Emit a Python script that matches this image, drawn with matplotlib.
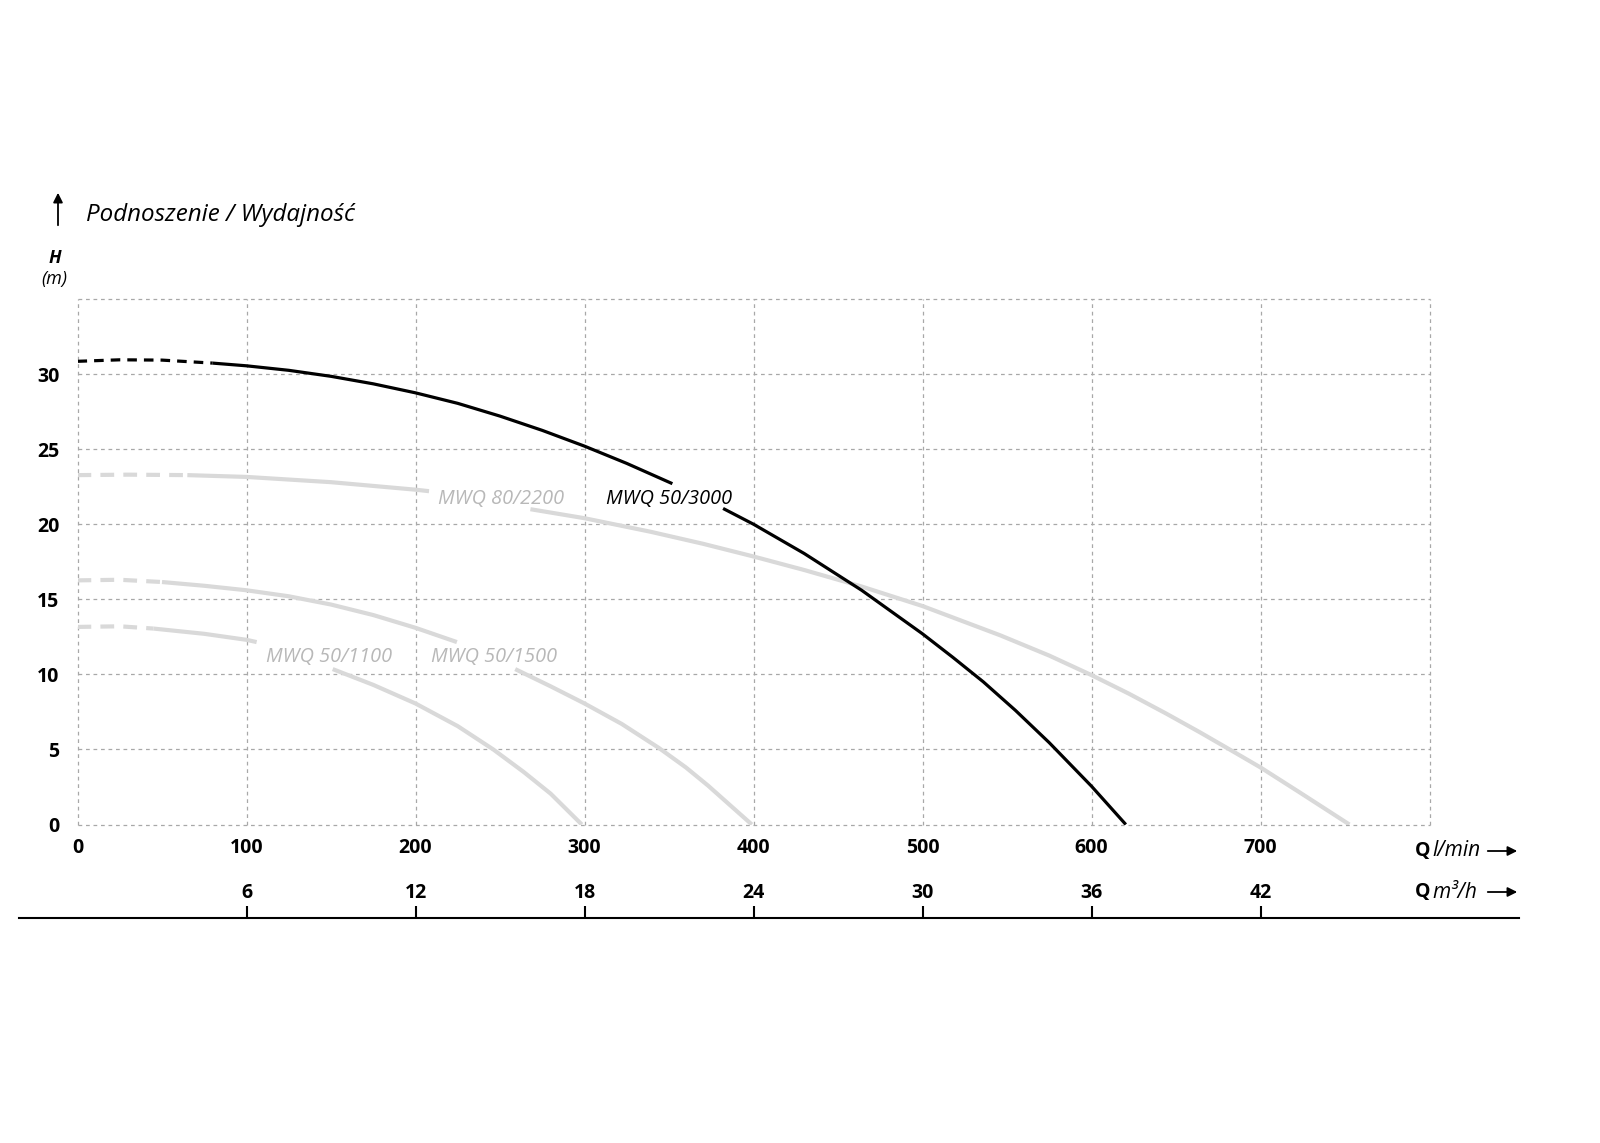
import matplotlib.pyplot as plt
import numpy as np

plt.rcParams['font.family'] = ['Open Sans', 'DejaVu Sans']

nan = np.nan

# pump curves: flow Q (l/min) vs head H (m); nan = gap under the label
# n_dash = index where the dashed start of the curve ends
q_3000 = [0, 25, 50, 80, 100, 125, 150, 175, 200, 225, 250, 275, 300, 325, 352, nan,
          382, 400, 430, 464, 500, 518, 536, 555, 575, 600, 620.3]
h_3000 = [30.85, 30.95, 30.93, 30.73, 30.55, 30.25, 29.85, 29.35, 28.75, 28.05, 27.2, 26.25, 25.2, 24.05, 22.7, nan,
          21.05, 20.0, 18.05, 15.6, 12.7, 11.13, 9.5, 7.6, 5.45, 2.55, 0]
dash_3000 = 3

q_2200 = [0, 30, 65, 100, 150, 200, 208, nan, 268, 300, 339, 370, 400, 430, 464, 500, 546, 575, 600,
          622, 644, 664, 684, 700, 723, 752.6]
h_2200 = [23.27, 23.3, 23.27, 23.15, 22.8, 22.3, 22.2, nan, 21.0, 20.4, 19.5, 18.7, 17.85, 16.95, 15.85, 14.55, 12.6, 11.25, 9.95,
          8.72, 7.4, 6.15, 4.85, 3.8, 2.15, 0]
dash_2200 = 2

q_1500 = [0, 25, 50, 75, 100, 125, 150, 175, 200, 224.5, nan, 259, 280, 300, 322, 344, 360, 373, 386, 399]
h_1500 = [16.26, 16.3, 16.15, 15.9, 15.6, 15.2, 14.65, 13.95, 13.1, 12.15, nan, 10.35, 9.2, 8.06, 6.7, 5.1, 3.8, 2.6, 1.3, 0]
dash_1500 = 2

q_1100 = [0, 25, 45, 75, 100, 106, nan, 151, 175, 200, 225, 246, 264, 280, 298.4]
h_1100 = [13.16, 13.2, 13.05, 12.7, 12.3, 12.15, nan, 10.35, 9.3, 8.06, 6.55, 5.0, 3.5, 2.05, 0]
dash_1100 = 2

x_ticks = [0, 100, 200, 300, 400, 500, 600, 700]
y_ticks = [0, 5, 10, 15, 20, 25, 30]
m3h_labels = ['6', '12', '18', '24', '30', '36', '42']

labels = ['MWQ 50/3000', 'MWQ 80/2200', 'MWQ 50/1500', 'MWQ 50/1100']
label_pos = [(350.3, 21.7), (250.6, 21.7), (246.7, 11.17), (148.8, 11.17)]


def fy(py):
    return 1 - py / 1143


def draw_curve(ax, q, h, n_dash, color, lw, dash):
    ax.plot(q[:n_dash + 1], h[:n_dash + 1], color=color, lw=lw, ls=(0, dash), solid_capstyle='butt')
    ax.plot(q[n_dash:], h[n_dash:], color=color, lw=lw, solid_capstyle='butt', solid_joinstyle='round')


fig = plt.figure(figsize=(16, 11.43), dpi=100)
ax = fig.add_axes([77.5 / 1600, fy(824.5), 1352 / 1600, 525.5 / 1143])
ax.set_xlim(0, 800)
ax.set_ylim(0, 35)
ax.set_xticks(x_ticks + [800])
ax.set_xticklabels([str(v) for v in x_ticks] + [''])
ax.set_yticks(y_ticks + [35])
ax.set_yticklabels([str(v) for v in y_ticks] + [''])
ax.tick_params(axis='x', length=0, labelsize=14, pad=10)
ax.tick_params(axis='y', length=0, labelsize=14, pad=13)
for lbl in ax.get_xticklabels() + ax.get_yticklabels():
    lbl.set_fontweight('bold')
ax.grid(True, color='#a8a8a8', lw=0.9, ls=(0, (3, 3)))
for gl in ax.get_xgridlines() + ax.get_ygridlines():
    gl.set_clip_on(False)
ax.set_axisbelow(True)
for s in ax.spines.values():
    s.set_visible(False)

gray = '#d9d9d9'
draw_curve(ax, q_2200, h_2200, dash_2200, gray, 3.0, (3.3, 2.2))
draw_curve(ax, q_1500, h_1500, dash_1500, gray, 3.0, (3.3, 2.2))
draw_curve(ax, q_1100, h_1100, dash_1100, gray, 3.0, (3.3, 2.2))
draw_curve(ax, q_3000, h_3000, dash_3000, 'black', 2.3, (3, 2.2))

for i, (txt, (x, y)) in enumerate(zip(labels, label_pos)):
    ax.text(x, y, txt, style='italic', fontsize=14.3, ha='center', va='center',
            color='black' if i == 0 else '#b8b8b8')

# bottom line with m3/h scale
q_left = (19.4 - 77.5) / 1.69
q_right = (1519 - 77.5) / 1.69
ax2 = fig.add_axes([19.4 / 1600, fy(918), 1499.6 / 1600, 0.0001])
ax2.set_xlim(q_left, q_right)
ax2.set_yticks([])
ax2.patch.set_visible(False)
for side in ['left', 'right', 'bottom']:
    ax2.spines[side].set_visible(False)
ax2.spines['top'].set_linewidth(1.5)
ax2.xaxis.tick_top()
ax2.set_xticks(x_ticks[1:])
ax2.set_xticklabels(m3h_labels)
ax2.tick_params(axis='x', direction='out', length=9, width=1.5, pad=2, labelsize=14)
for lbl in ax2.get_xticklabels():
    lbl.set_fontweight('bold')

# unit labels at the right
fig.text(1415 / 1600, fy(851), 'Q', weight='bold', fontsize=14, va='center')
fig.text(1432 / 1600, fy(851), 'l/min', style='italic', fontsize=15, va='center')
fig.text(1415 / 1600, fy(892), 'Q', weight='bold', fontsize=14, va='center')
fig.text(1432 / 1600, fy(892), 'm³/h', style='italic', fontsize=15, va='center')
for py in [851, 892]:
    ax.annotate('', xy=(1520, 1143 - py), xytext=(1485, 1143 - py), xycoords='figure pixels',
                arrowprops=dict(arrowstyle='-|>', color='black', lw=1.3, mutation_scale=14))

# y axis title
ax.annotate('', xy=(58, 1143 - 190), xytext=(58, 1143 - 228), xycoords='figure pixels',
            arrowprops=dict(arrowstyle='-|>', color='black', lw=1.3, mutation_scale=14))
fig.text(86 / 1600, fy(215), 'Podnoszenie / Wydajność', style='italic', fontsize=17.4, va='center')
fig.text(55 / 1600, fy(258), 'H', weight='bold', style='italic', fontsize=13, ha='center', va='center')
fig.text(54 / 1600, fy(279), '(m)', style='italic', fontsize=13, ha='center', va='center')

fig.savefig('out.png', dpi=100)
